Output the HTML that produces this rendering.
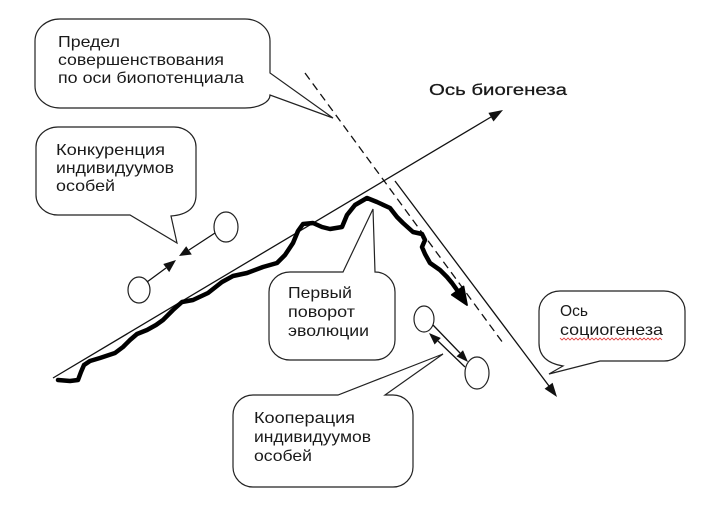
<!DOCTYPE html>
<html>
<head>
<meta charset="utf-8">
<style>
  html, body { margin:0; padding:0; background:#fff; }
  svg { display:block; }
  text { font-family: "Liberation Sans", "DejaVu Sans", sans-serif; font-size:16px; fill:#1a1a1a; }
</style>
</head>
<body>
<svg width="715" height="506" viewBox="0 0 715 506" xmlns="http://www.w3.org/2000/svg">
  <rect width="715" height="506" fill="#fff"/>

  <!-- Callout 1: Предел -->
  <path d="M60,19 H245 A25,22 0 0 1 270,41 V73 L333,118 L270,95 A25,13 0 0 1 245,108 H60 A25,22 0 0 1 35,86 V41 A25,22 0 0 1 60,19 Z"
        fill="#fff" stroke="#222" stroke-width="1.2"/>
  <text x="58" y="47" textLength="62" lengthAdjust="spacingAndGlyphs">Предел</text>
  <text x="58" y="65" textLength="166" lengthAdjust="spacingAndGlyphs">совершенствования</text>
  <text x="58" y="83" textLength="186" lengthAdjust="spacingAndGlyphs">по оси биопотенциала</text>

  <!-- Callout 2: Конкуренция -->
  <path d="M58,127 H174 A22,20 0 0 1 196,147 V195 Q196,214 171,216 L177,243 L130,215 H58 A22,20 0 0 1 36,195 V147 A22,20 0 0 1 58,127 Z"
        fill="#fff" stroke="#222" stroke-width="1.2"/>
  <text x="56" y="155" textLength="109" lengthAdjust="spacingAndGlyphs">Конкуренция</text>
  <text x="56" y="173" textLength="118" lengthAdjust="spacingAndGlyphs">индивидуумов</text>
  <text x="56" y="191" textLength="59" lengthAdjust="spacingAndGlyphs">особей</text>

  <!-- Konk circles and arrows -->
  <ellipse cx="226" cy="227" rx="12" ry="15" fill="#fff" stroke="#222" stroke-width="1.2"/>
  <ellipse cx="139" cy="290" rx="11" ry="13" fill="#fff" stroke="#222" stroke-width="1.2"/>
  <line x1="215" y1="233" x2="189" y2="250" stroke="#111" stroke-width="1.3"/>
  <polygon points="179,256 191.8,254.5 186.2,246.2" fill="#111"/>
  <line x1="147" y1="282" x2="166" y2="268" stroke="#111" stroke-width="1.3"/>
  <polygon points="176,260 169.2,272.1 163.3,264" fill="#111"/>

  <!-- Bio axis -->
  <line x1="53" y1="378" x2="491" y2="117" stroke="#111" stroke-width="1.3"/>
  <polygon points="503,110 493.5,121.5 488.4,112.9" fill="#111"/>
  <text x="429" y="95" textLength="138" lengthAdjust="spacingAndGlyphs" stroke="#111" stroke-width="0.25">Ось биогенеза</text>

  <!-- Dashed limit line -->
  <line x1="305" y1="73" x2="503" y2="343" stroke="#111" stroke-width="1.3" stroke-dasharray="8,5"/>

  <!-- Socio axis -->
  <line x1="395" y1="181" x2="549" y2="386" stroke="#111" stroke-width="1.3"/>
  <polygon points="557,397 552.6,382.8 544.6,388.8" fill="#111"/>

  <!-- Evolution path -->
  <polyline fill="none" stroke="#000" stroke-width="4.5" stroke-linejoin="round" stroke-linecap="round"
    points="58,380 70,381 78,380 81,372 84,365 90,361 100,358 115,353 123,347 130,340 137,334 147,330 156,325 163,320 173,310 182,302 193,300 208,293 222,282 233,276 247,273 263,267 277,263 285,255 293,243 298,231 303,224 313,223 322,227 330,229 342,227 347,215 355,205 367,198 377,202 390,208 397,217 403,223 413,232 422,234 425,240 422,247 425,254 430,263 440,270 447,277 452,283 457,290"/>
  <polygon points="467,305 463.5,286.5 451.8,294.8" fill="#000" stroke="#000" stroke-width="1.8" stroke-linejoin="round"/>

  <!-- Callout 3: Первый поворот -->
  <path d="M290,272 H343 L373,209 L375,272 A20,20 0 0 1 395,292 V340 A20,20 0 0 1 375,360 H290 A21,20 0 0 1 269,340 V292 A21,20 0 0 1 290,272 Z"
        fill="#fff" stroke="#222" stroke-width="1.2"/>
  <text x="288" y="298" textLength="64" lengthAdjust="spacingAndGlyphs">Первый</text>
  <text x="288" y="317" textLength="67" lengthAdjust="spacingAndGlyphs">поворот</text>
  <text x="288" y="336" textLength="81" lengthAdjust="spacingAndGlyphs">эволюции</text>

  <!-- Coop circles and arrows -->
  <ellipse cx="424" cy="319" rx="10" ry="13" fill="#fff" stroke="#222" stroke-width="1.2"/>
  <ellipse cx="477" cy="373" rx="12" ry="16" fill="#fff" stroke="#222" stroke-width="1.2"/>
  <line x1="433" y1="325" x2="460" y2="353" stroke="#111" stroke-width="1.3"/>
  <polygon points="468,362 463,350.2 456.5,356.4" fill="#111"/>
  <line x1="465" y1="367" x2="438" y2="341" stroke="#111" stroke-width="1.3"/>
  <polygon points="429,333 440.8,338 434.6,344.5" fill="#111"/>

  <!-- Callout 4: Кооперация -->
  <path d="M253,395 H338 L443,354 L385,395 H393 A20,20 0 0 1 413,415 V467 A20,20 0 0 1 393,487 H253 A20,20 0 0 1 233,467 V415 A20,20 0 0 1 253,395 Z"
        fill="#fff" stroke="#222" stroke-width="1.2"/>
  <text x="254" y="423" textLength="101" lengthAdjust="spacingAndGlyphs">Кооперация</text>
  <text x="254" y="442" textLength="117" lengthAdjust="spacingAndGlyphs">индивидуумов</text>
  <text x="254" y="461" textLength="58" lengthAdjust="spacingAndGlyphs">особей</text>

  <!-- Callout 5: Ось социогенеза -->
  <path d="M560,291 H664 A21,20 0 0 1 685,311 V341 A21,20 0 0 1 664,361 H600 L549,374 L563,366 Q539,362 539,343 V311 A21,20 0 0 1 560,291 Z"
        fill="#fff" stroke="#222" stroke-width="1.2"/>
  <text x="560" y="316" textLength="28" lengthAdjust="spacingAndGlyphs">Ось</text>
  <text x="560" y="335" textLength="103" lengthAdjust="spacingAndGlyphs">социогенеза</text>
  <polyline fill="none" stroke="#d33" stroke-width="0.8"
    points="560,338 562,340 564,338 566,340 568,338 570,340 572,338 574,340 576,338 578,340 580,338 582,340 584,338 586,340 588,338 590,340 592,338 594,340 596,338 598,340 600,338 602,340 604,338 606,340 608,338 610,340 612,338 614,340 616,338 618,340 620,338 622,340 624,338 626,340 628,338 630,340 632,338 634,340 636,338 638,340 640,338 642,340 644,338 646,340 648,338 650,340 652,338 654,340 656,338 658,340 660,338 662,340"/>
</svg>
</body>
</html>
